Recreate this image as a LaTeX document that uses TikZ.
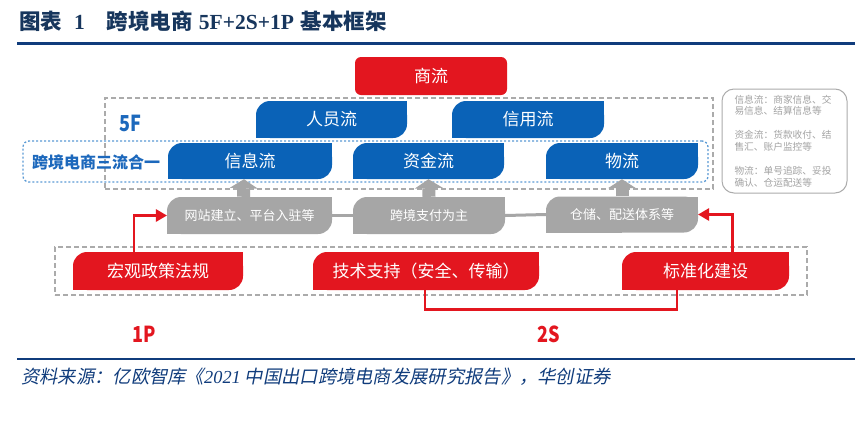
\documentclass[tikz,border=0pt]{standalone}
\usepackage{fontspec}
\usepackage{graphicx}
\setmainfont{Liberation Serif}
\newfontfamily\cjk{Noto Sans CJK SC}
\newfontfamily\cjkit[FakeSlant=0.2]{Noto Sans CJK SC}
\usetikzlibrary{arrows.meta}
\definecolor{cred}{HTML}{E3161F}
\definecolor{cblue}{HTML}{0A62B7}
\definecolor{ctxtblue}{HTML}{1C68BC}
\definecolor{cgray}{HTML}{A6A6A6}
\definecolor{cdash}{HTML}{ABABAB}
\definecolor{cdot}{HTML}{5B9BD5}
\definecolor{ctitle}{HTML}{17365D}
\definecolor{crule}{HTML}{103C7C}
\definecolor{cinfo}{HTML}{A3A3A3}
\newcommand{\fsz}[1]{\fontsize{#1pt}{#1pt}\selectfont}
\newcommand{\narrow}[1]{\scalebox{0.82}[1]{#1}}
\tikzset{
  tabbox/.style={inner sep=0pt, text=white,
    path picture={
      \fill[#1, rounded corners=14pt] (path picture bounding box.south west) rectangle (path picture bounding box.north east);
      \fill[#1] (path picture bounding box.north) rectangle (path picture bounding box.east);
      \fill[#1] (path picture bounding box.south) rectangle (path picture bounding box.west);
    }},
  bluebox/.style={tabbox=cblue, font=\cjk\fsz{17}, minimum height=37pt},
  graybox/.style={tabbox=cgray, font=\cjk\fsz{13}, minimum height=37pt},
  redbox/.style={tabbox=cred, font=\cjk\fsz{17}, minimum height=38pt},
  gframe/.style={draw=cdash, line width=1.2pt, dash pattern=on 5pt off 3pt, inner sep=0pt},
  bframe/.style={draw=cdot, line width=1.3pt, dash pattern=on 2pt off 2pt, rounded corners=6pt, inner sep=0pt},
  garrow/.style={draw=cgray, line width=13pt, -{Triangle[length=9pt,width=28pt,line width=0pt]}},
  gline/.style={draw=cgray, line width=3pt},
  rarrow/.style={draw=cred, line width=2.6pt, -{Triangle[length=11pt,width=13pt,line width=0pt]}},
  rline/.style={draw=cred, line width=2.6pt},
  biglabel/.style={font=\cjk\bfseries\fsz{22}, inner sep=0pt}
}
\begin{document}
\begin{tikzpicture}[x=1pt,y=-1pt]
\useasboundingbox (0,0) rectangle (864,421);
\fill[white] (0,0) rectangle (864,421);

% title and rules
\node[anchor=west, inner sep=0pt, text=ctitle] (title) at (19,21)
  {{\cjk\bfseries\fsz{21.5}图表}\hspace{12pt}{\bfseries\fsz{21.5}1}\hspace{22pt}{\cjk\bfseries\fsz{21.5}跨境电商}\hspace{6pt}{\bfseries\fsz{21.5}5F+2S+1P}\hspace{7pt}{\cjk\bfseries\fsz{21.5}基本框架}};
\coordinate (rtl) at (17,43.5);
\coordinate (rtr) at (855,43.5);
\draw[crule, line width=2.5pt] (rtl) -- (rtr);
\coordinate (rbl) at (17,359);
\coordinate (rbr) at (855,359);
\draw[crule, line width=2.5pt] (rbl) -- (rbr);

% frames
\node[gframe, minimum width=608pt, minimum height=91pt] (fiveF) at (409,143.5) {};
\node[bframe, minimum width=685pt, minimum height=41pt] (three) at (365.5,161.5) {};
\node[gframe, minimum width=752pt, minimum height=48pt] (bottom) at (431,271) {};

% top red box
\node[fill=cred, rounded corners=6pt, text=white, font=\cjk\fsz{17}, minimum width=152pt, minimum height=38pt, inner sep=0pt] (trade) at (431,76) {商流};

% blue boxes
\node[bluebox, minimum width=151pt] (people) at (331.5,119.5) {人员流};
\node[bluebox, minimum width=152pt] (credit) at (528,119.5) {信用流};
\node[bluebox, minimum width=164pt, minimum height=36pt] (info) at (250,161) {信息流};
\node[bluebox, minimum width=151pt, minimum height=36pt] (fund) at (428.5,161) {资金流};
\node[bluebox, minimum width=152pt, minimum height=36pt] (logi) at (622,161) {物流};

% labels
\node[biglabel, text=ctxtblue] (lab5f) at (130.5,123) {\narrow{5F}};
\node[font=\cjk\bfseries\fsz{16}, text=ctxtblue, inner sep=0pt] (lab3) at (96,162) {跨境电商三流合一};

% gray boxes
\node[graybox, minimum width=165pt] (net) at (249.5,215.5) {网站建立、平台入驻等};
\node[graybox, minimum width=152pt] (pay) at (429,215.5) {跨境支付为主};
\node[graybox, minimum width=152pt, minimum height=36pt] (wh) at (622,214.5) {仓储、配送体系等};

% red bottom boxes
\node[redbox, minimum width=170pt] (macro) at (158,271) {宏观政策法规};
\node[redbox, minimum width=226pt] (tech) at (426,271) {技术支持（安全、传输）};
\node[redbox, minimum width=167pt] (std) at (705.5,271) {标准化建设};

% info box
\node[draw=cdash, line width=1pt, rounded corners=12pt, minimum width=125pt, minimum height=104pt,
      text width=100pt, inner xsep=12.5pt, align=left, text=cinfo, font=\cjk\fontsize{9.7pt}{11.6pt}\selectfont] (note) at (784.5,141)
  {信息流：商家信息、交\\易信息、结算信息等\\[12.5pt]资金流：货款收付、结\\售汇、账户监控等\\[12.5pt]物流：单号追踪、妥投\\确认、仓运配送等};

% connectors
\draw[garrow] ([xshift=-6pt]net.north) -- ([xshift=-6pt]info.south);
\draw[garrow] (pay.north) -- (fund.south);
\draw[garrow] (wh.north) -- (logi.south);
\draw[gline] (net.east) -- (pay.west);
\draw[gline] (pay.east) -- (wh.west);
\draw[rarrow] ([xshift=61pt]macro.north west) |- (net.west);
\draw[rarrow] ([xshift=-57pt]std.north east) |- (wh.east);
\draw[rline] ([xshift=112pt]tech.south west) -- ++(0,19) -| ([xshift=55pt]std.south west);

\node[biglabel, text=cred] (lab1p) at (144.5,334) {\narrow{1P}};
\node[biglabel, text=cred] (lab2s) at (548.5,334) {\narrow{2S}};

% source
\node[anchor=west, inner sep=0pt, text=crule, font=\cjkit\fsz{18.3}] (src) at (21,377)
  {资料来源：亿欧智库《{\rmfamily\itshape 2021} 中国出口跨境电商发展研究报告》，华创证券};
\end{tikzpicture}
\end{document}
